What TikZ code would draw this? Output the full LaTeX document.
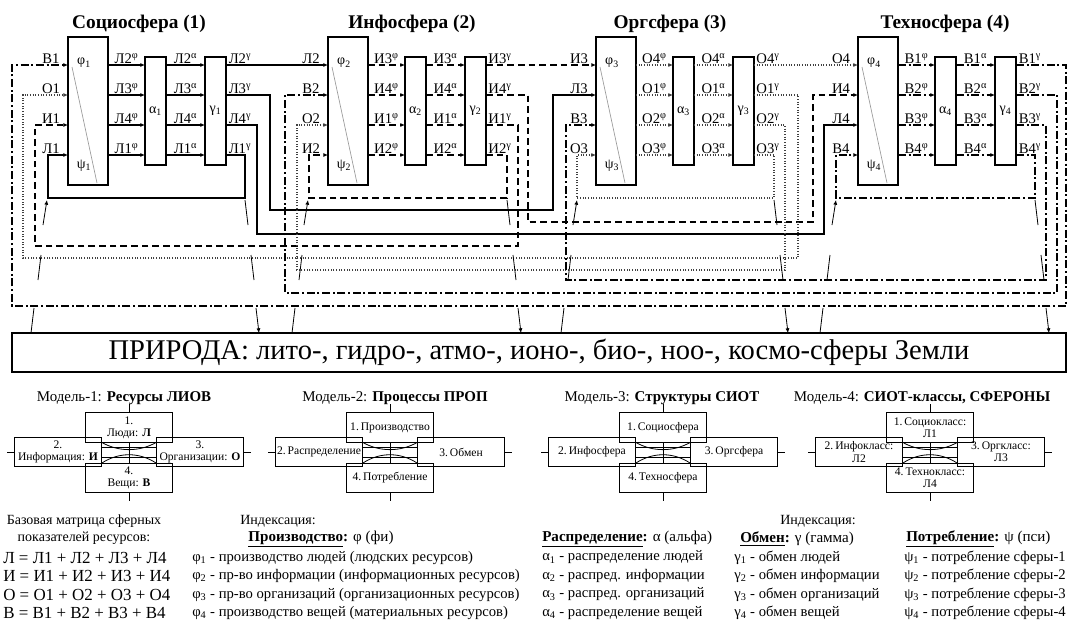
\documentclass[tikz,border=0pt]{standalone}
\usepackage{fontspec}
\setmainfont{Liberation Serif}
\usetikzlibrary{arrows.meta,positioning,calc}
\tikzset{
  phibox/.style={draw,line width=1pt,minimum width=30pt,minimum height=111pt,inner sep=0pt,outer sep=0pt},
  abox/.style={draw,line width=1pt,minimum width=15.75pt,minimum height=81pt,inner sep=0pt,outer sep=0pt,font=\fontsize{10.5}{11}\selectfont},
  lres/.style={line width=0.9pt},
  ires/.style={line width=0.9pt,dash pattern=on 5pt off 3pt},
  ores/.style={line width=0.8pt,black!75,dash pattern=on 0.8pt off 1.2pt},
  vres/.style={line width=1.1pt,dash pattern=on 6pt off 2pt on 1.5pt off 2pt},
  intip/.style={-{Latex[length=3.5pt,width=3pt]}},
  lbl/.style={anchor=south,inner sep=0.8pt,font=\fontsize{11}{12}\selectfont},
  glab/.style={inner sep=0pt,font=\fontsize{10.5}{11}\selectfont},
  ttl/.style={font=\fontsize{14.5}{16}\selectfont\bfseries},
  diag/.style={black!40,line width=0.5pt},
  natarr/.style={line width=0.6pt},
  natbox/.style={draw,line width=1.4pt,minimum width=790.5pt,minimum height=29.25pt,inner sep=0pt,font=\fontsize{21.4}{24}\selectfont},
  mbox/.style={draw,line width=0.6pt,minimum width=65.5pt,minimum height=22pt,inner sep=0.5pt,align=center,font=\fontsize{8.7}{9.3}\selectfont},
  mline/.style={line width=0.6pt},
  mttl/.style={font=\fontsize{11.2}{13}\selectfont},
  small/.style={font=\fontsize{10.5}{11}\selectfont},
  eqn/.style={anchor=west,inner sep=0pt,font=\fontsize{12.7}{14}\selectfont},
  idx/.style={anchor=west,inner sep=0pt,font=\fontsize{11}{13}\selectfont},
  hdr/.style={inner sep=0pt,font=\fontsize{11.3}{13}\selectfont},
}
\begin{document}
\begin{tikzpicture}[x=0.75pt,y=-0.75pt]
  \useasboundingbox (0,0) rectangle (1071,621);
  % spheres
  \foreach \s/\px/\tx/\sty/\nm/\ia/\ib/\ic/\id/\oa/\ob/\oc/\od in {
    1/68/139/lres/{Социосфера (1)}/В1/О1/И1/Л1/Л2/Л3/Л4/Л1,
    2/328/412/ires/{Инфосфера (2)}/Л2/В2/О2/И2/И3/И4/И1/И2,
    3/596/670/ores/{Оргсфера (3)}/И3/Л3/В3/О3/О4/О1/О2/О3,
    4/858/945/vres/{Техносфера (4)}/О4/И4/Л4/В4/В1/В2/В3/В4}{
    \node[ttl] (t\s) at (\tx,24) {\nm};
    \node[phibox] (phi\s) at (\px+20,111) {};
    \node[abox] (al\s) at (\px+87.5,111) {α\textsubscript{\s}};
    \node[abox] (ga\s) at (\px+147.5,111) {γ\textsubscript{\s}};
    \draw[diag] (\px+4,67) -- (\px+29,183);
    \node[glab] (fl\s) at (\px+16,63) {φ\textsubscript{\s}};
    \node[glab] (pl\s) at (\px+16,166) {ψ\textsubscript{\s}};
    \foreach \r/\il/\ol in {1/\ia/\oa,2/\ib/\ob,3/\ic/\oc,4/\id/\od}{
      \pgfmathsetmacro{\y}{35+30*\r}
      \coordinate (i\s\r) at (\px,\y);
      \coordinate (o\s\r) at (\px+158,\y);
      \draw[\sty,intip] (phi\s.east |- i\s\r) -- (al\s.west |- i\s\r);
      \draw[\sty,intip] (al\s.east |- i\s\r) -- (ga\s.west |- i\s\r);
      \node[lbl] (li\s\r) at (\px-17,\y) {\il};
      \node[lbl] (lp\s\r) at (\px+58.5,\y) {\ol\textsuperscript{φ}};
      \node[lbl] (la\s\r) at (\px+117.5,\y) {\ol\textsuperscript{α}};
      \node[lbl] (lg\s\r) at (\px+172,\y) {\ol\textsuperscript{γ}};
    }
  }
  % people
  \draw[lres,intip] (o11) -- (i21);
  \draw[lres,intip] (o12) -| (270,210) -| (553,95) -- (i32);
  \draw[lres,intip] (o13) -| (257,234) -| (824,125) -- (i43);
  \draw[lres,intip] (o14) -| (245,198) -| (48,155) -- (i14);
  % information
  \draw[ires,intip] (o21) -- (i31);
  \draw[ires,intip] (o22) -| (528,222) -| (813,95) -- (i42);
  \draw[ires,intip] (o23) -| (518,246) -| (35,125) -- (i13);
  \draw[ires,intip] (o24) -| (507,198) -| (309,155) -- (i24);
  % organisations
  \draw[ores,intip] (o31) -- (i41);
  \draw[ores,intip] (o32) -| (798,258) -| (23,95) -- (i12);
  \draw[ores,intip] (o33) -| (785,270) -| (297,125) -- (i23);
  \draw[ores,intip] (o34) -| (774,198) -| (577,155) -- (i34);
  % things
  \draw[vres,intip] (o41) -| (1066,306) -| (12,65) -- (i11);
  \draw[vres,intip] (o42) -| (1057,293) -| (285,95) -- (i22);
  \draw[vres,intip] (o43) -| (1046,280) -| (566,125) -- (i33);
  \draw[vres,intip] (o44) -| (1035,198) -| (836,155) -- (i44);
  % nature
  \node[natbox] (nat) at (539,352.5) {ПРИРОДА: лито-, гидро-, атмо-, ионо-, био-, ноо-, космо-сферы Земли};
  \foreach \bx in {31,292,561,820}{
    \draw[natarr] (\bx,333) -- (\bx+3,308);
    \draw[natarr] (\bx+7,280) -- (\bx+10,255);
    \draw[natarr,intip] (\bx+12,225) -- (\bx+16,200);
  }
  \foreach \rx in {245,507,774,1035}{
    \draw[natarr] (\rx,200) -- (\rx+3,225);
    \draw[natarr] (\rx+6,255) -- (\rx+9,280);
    \draw[natarr,intip] (\rx+11,308) -- (\rx+14,333);
  }
  % models
  \foreach \c/\tc/\n/\mt/\ta/\tb/\tcc/\td in {
    129/124/1/{Модель-1: \textbf{Ресурсы ЛИОВ}}/{1.\\Люди: \textbf{Л}}/{2.\\Информация: \textbf{И}}/{3.\\Организации: \textbf{О}}/{4.\\Вещи: \textbf{В}},
    390/395/2/{Модель-2: \textbf{Процессы ПРОП}}/{1.\,Производство}/{2.\,Распределение}/{3.\,Обмен}/{4.\,Потребление},
    663/662/3/{Модель-3: \textbf{Структуры СИОТ}}/{1.\,Социосфера}/{2.\,Инфосфера}/{3.\,Оргсфера}/{4.\,Техносфера},
    930/922/4/{Модель-4: \textbf{СИОТ-классы, СФЕРОНЫ}}/{1.\,Социокласс:\\Л1}/{2.\,Инфокласс:\\Л2}/{3.\,Оргкласс:\\Л3}/{4.\,Технокласс:\\Л4}}{
    \node[mttl] (mt\n) at (\tc,398) {\mt};
    \node[mbox] (mT\n) at (\c,427.5) {\ta};
    \node[mbox] (mL\n) at (\c-71,452) {\tb};
    \node[mbox] (mR\n) at (\c+71,452) {\tcc};
    \node[mbox] (mB\n) at (\c,478) {\td};
    \draw[mline] (mT\n.north) -- ++(0,-8);
    \draw[mline] (mB\n.south) -- ++(0,8);
    \draw[mline] (mL\n.west) -- ++(-7,0);
    \draw[mline] (mR\n.east) -- ++(7,0);
    \draw[mline] (mT\n.south) -- (mB\n.north);
    \draw[mline] (\c-27.3,447) -- (\c+27.3,447);
    \draw[mline] (\c-27.3,457) -- (\c+27.3,457);
    \draw[mline] (mL\n.east |- mT\n.south) .. controls (\c-10,452) and (\c+10,452) .. (mR\n.west |- mT\n.south);
    \draw[mline] (mL\n.east |- mB\n.north) .. controls (\c-10,452) and (\c+10,452) .. (mR\n.west |- mB\n.north);
  }
  % legend texts
  \node[small] (bm1) at (84,521) {Базовая матрица сферных};
  \node[small] (bm2) at (84,538) {показателей ресурсов:};
  \node[small] (ix1) at (278,521) {Индексация:};
  \node[small] (ix2) at (818,521) {Индексация:};
  \node[hdr] (hf) at (321,539) {\underline{\textbf{Производство}}\textbf{:} φ (фи)};
  \node[hdr,anchor=west] (ha) at (542,539) {\underline{\textbf{Распределение}}\textbf{:} α (альфа)};
  \node[hdr,anchor=west] (hg) at (740,539) {\underline{\textbf{Обмен}}\textbf{:} γ (гамма)};
  \node[hdr,anchor=west] (hp) at (906,539) {\underline{\textbf{Потребление}}\textbf{:} ψ (пси)};
  \foreach \k/\ltr in {1/Л,2/И,3/О,4/В}
    \node[eqn] (eq\k) at (3,539+18.5*\k) {\ltr{} = \ltr1 + \ltr2 + \ltr3 + \ltr4};
  \foreach \k/\t in {1/{производство людей (людских ресурсов)},2/{пр-во информации (информационных ресурсов)},3/{пр-во организаций (организационных ресурсов)},4/{производство вещей (материальных ресурсов)}}
    \node[idx] (fi\k) at (192,539+18.5*\k) {φ\textsubscript{\k} - \t};
  \foreach \k/\t in {1/{распределение людей},2/{распред. информации},3/{распред. организаций},4/{распределение вещей}}
    \node[idx] (ai\k) at (542,539+18.5*\k) {α\textsubscript{\k} - \t};
  \foreach \k/\t in {1/{обмен людей},2/{обмен информации},3/{обмен организаций},4/{обмен вещей}}
    \node[idx] (gi\k) at (734,539+18.5*\k) {γ\textsubscript{\k} - \t};
  \foreach \k in {1,...,4}
    \node[idx] (pi\k) at (904,539+18.5*\k) {ψ\textsubscript{\k} - потребление сферы-\k};
\end{tikzpicture}
\end{document}
